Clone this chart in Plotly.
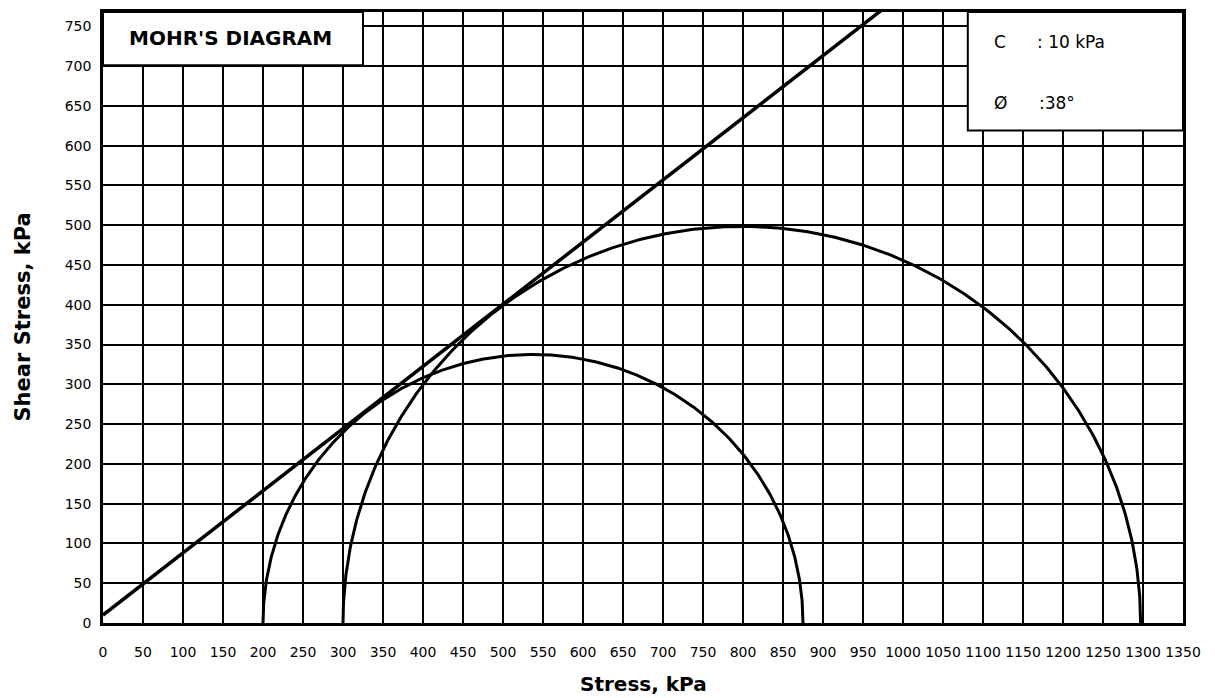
import numpy as np
import plotly.graph_objects as go

# ---- data ----
cohesion_kpa = 10          # C
phi_deg = 38               # friction angle
sigma3 = [200, 300]        # minor principal stresses (kPa)
sigma1 = [875, 1297]       # major principal stresses (kPa)
x_ticks = list(range(0, 1351, 50))
y_ticks = list(range(0, 751, 50))
x_range = [0, 1350]
y_range = [0, 768]

fig = go.Figure()

# Mohr circles (upper halves)
theta = np.linspace(0, np.pi, 400)
for s3, s1 in zip(sigma3, sigma1):
    c = (s1 + s3) / 2
    r = (s1 - s3) / 2
    fig.add_trace(go.Scatter(
        x=c + r * np.cos(theta), y=r * np.sin(theta),
        mode="lines", line=dict(color="black", width=3),
        hoverinfo="skip", showlegend=False))

# Failure envelope
sig = np.array([0, 1100])
tau = cohesion_kpa + sig * np.tan(np.radians(phi_deg))
fig.add_trace(go.Scatter(x=sig, y=tau, mode="lines",
                         line=dict(color="black", width=3.5),
                         hoverinfo="skip", showlegend=False))

tick_font = dict(family="DejaVu Sans", size=14, color="black")
fig.update_xaxes(range=x_range, tickvals=x_ticks, ticktext=[str(v) for v in x_ticks],
                 showgrid=True, gridcolor="black", gridwidth=1.5,
                 showline=True, linecolor="black", linewidth=2.5, mirror=True,
                 zeroline=False, ticks="", ticklabelstandoff=14, tickfont=tick_font,
                 tickangle=0, fixedrange=True)
fig.update_yaxes(range=y_range, tickvals=y_ticks, ticktext=[str(v) for v in y_ticks],
                 showgrid=True, gridcolor="black", gridwidth=1.5,
                 showline=True, linecolor="black", linewidth=2.5, mirror=True,
                 zeroline=False, ticks="", ticklabelstandoff=6, tickfont=tick_font,
                 fixedrange=True)

# Title box and parameter box
fig.add_shape(type="rect", xref="x", yref="y", x0=0, x1=325, y0=701, y1=768,
              fillcolor="white", line=dict(color="black", width=2), layer="above")
fig.add_shape(type="rect", xref="x", yref="y", x0=1081, x1=1350, y0=619, y1=768,
              fillcolor="white", line=dict(color="black", width=2), layer="above")

fig.add_annotation(x=159, y=735, xref="x", yref="y", text="<b>MOHR'S DIAGRAM</b>",
                   showarrow=False, font=dict(family="DejaVu Sans", size=20, color="black"))
box_font = dict(family="DejaVu Sans", size=17, color="black")
fig.add_annotation(x=1111, y=730, xref="x", yref="y", text="C", xanchor="left",
                   showarrow=False, font=box_font)
fig.add_annotation(x=1165, y=730, xref="x", yref="y", text=f": {cohesion_kpa} kPa",
                   xanchor="left", showarrow=False, font=box_font)
fig.add_annotation(x=1111, y=654, xref="x", yref="y", text="Ø", xanchor="left",
                   showarrow=False, font=box_font)
fig.add_annotation(x=1167, y=654, xref="x", yref="y", text=f":{phi_deg}°",
                   xanchor="left", showarrow=False, font=box_font)

# Axis titles
fig.add_annotation(x=0.5, y=-0.0993, xref="paper", yref="paper", text="<b>Stress, kPa</b>",
                   showarrow=False, yanchor="middle",
                   font=dict(family="DejaVu Sans", size=20, color="black"))
fig.add_annotation(x=-0.075, y=0.5, xref="paper", yref="paper",
                   text="<b>Shear Stress, kPa</b>", textangle=-90,
                   showarrow=False, xanchor="center",
                   font=dict(family="DejaVu Sans", size=21, color="black"))

# page body adds an 8px offset, so the figure is sized to fill the rest of the window
fig.update_layout(width=1207, height=690, margin=dict(l=95, r=32, t=1, b=75),
                  paper_bgcolor="white", plot_bgcolor="white", showlegend=False)

fig.write_html("out.html")
